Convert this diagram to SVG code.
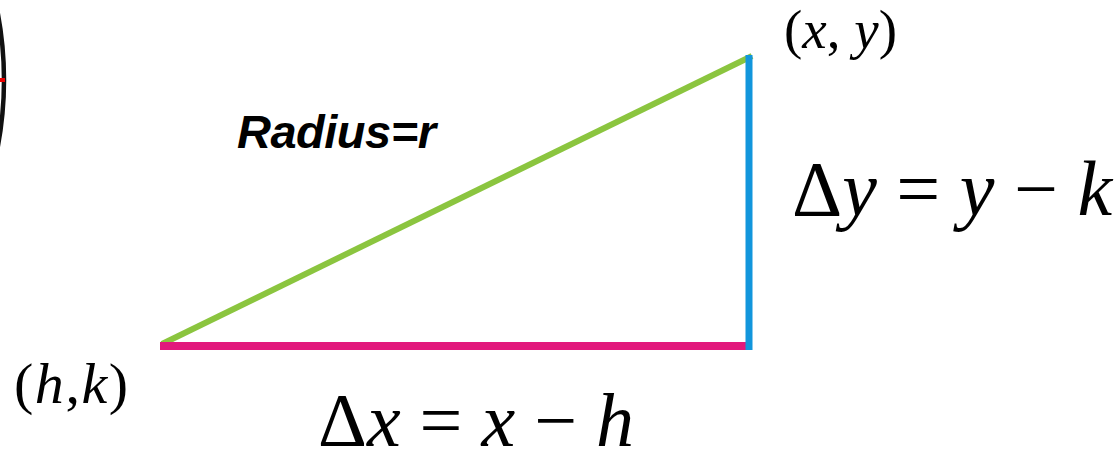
<svg xmlns="http://www.w3.org/2000/svg" width="1120" height="453" viewBox="0 0 1120 453">
<style>
.m{font-family:"Liberation Serif","Times New Roman",serif;fill:#000}
.i{font-style:italic}
.lbl{font-family:"Liberation Sans",Arial,sans-serif;font-weight:bold;font-style:italic;fill:#000}
</style>
<rect width="1120" height="453" fill="#fff"/>
<g id="circle">
<circle cx="-355" cy="80" r="359" fill="none" stroke="#111" stroke-width="4.5"/>
<rect x="0" y="78" width="5" height="4" fill="#e00"/>
</g>
<g id="connectors">
<line id="radius" x1="162" y1="344" x2="752" y2="56" stroke="#8bc53f" stroke-width="6"/>
<line id="dx" x1="160" y1="346" x2="749" y2="346" stroke="#e2187c" stroke-width="8"/>
<line id="dy" x1="749" y1="55" x2="749" y2="350" stroke="#1296dc" stroke-width="7"/>
</g>
<g id="labels">
<text class="lbl" x="237" y="148" font-size="47" letter-spacing="-0.5">Radius=r</text>
<text class="m" x="784" y="48" font-size="55" textLength="113" lengthAdjust="spacing">(<tspan class="i">x</tspan>, <tspan class="i">y</tspan>)</text>
<text class="m" x="14" y="403" font-size="58" textLength="114" lengthAdjust="spacing">(<tspan class="i">h</tspan>,<tspan class="i">k</tspan>)</text>
<text class="m" x="792" y="215" font-size="78">Δ<tspan class="i">y</tspan> = <tspan class="i">y</tspan> − <tspan class="i">k</tspan></text>
<text class="m" x="318" y="446" font-size="76">Δ<tspan class="i">x</tspan> = <tspan class="i">x</tspan> − <tspan class="i">h</tspan></text>
</g>
</svg>
